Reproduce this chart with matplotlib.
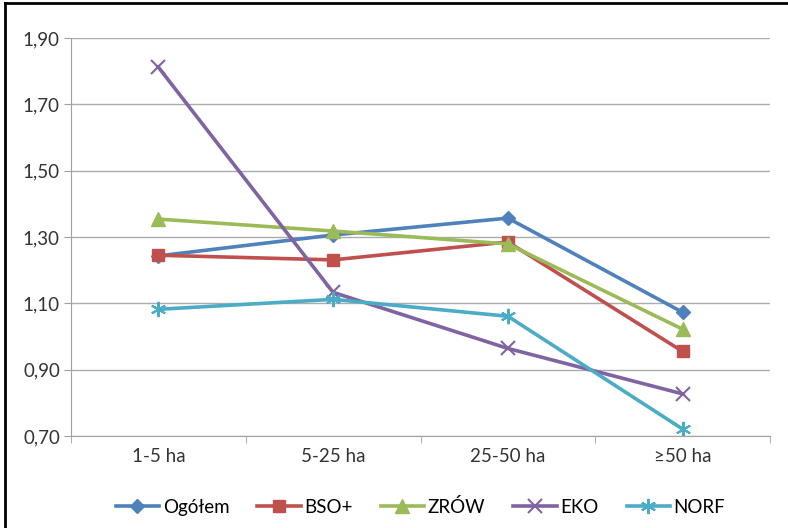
import matplotlib
matplotlib.use('Agg')
import matplotlib.pyplot as plt
from matplotlib.ticker import FuncFormatter, FixedLocator
from matplotlib.lines import Line2D

plt.rcParams['font.family'] = ['Lato', 'DejaVu Sans']

groups = ['1-5 ha', '5-25 ha', '25-50 ha', '≥50 ha']
ogolem = [1.243, 1.306, 1.357, 1.073]
bso = [1.245, 1.231, 1.285, 0.955]
zrow = [1.354, 1.318, 1.279, 1.022]
eko = [1.812, 1.133, 0.964, 0.827]
norf = [1.082, 1.112, 1.061, 0.721]

fig = plt.figure(figsize=(7.88, 5.28), dpi=100)
ax = fig.add_axes([71/788, 1-436/528, 699/788, 398/528])

x = range(len(groups))
ax.plot(x, ogolem, color='#4F81BD', lw=2.6, marker='D', ms=7, label='Ogółem')
ax.plot(x, bso, color='#C0504D', lw=2.6, marker='s', ms=9, label='BSO+')
ax.plot(x, zrow, color='#9BBB59', lw=2.6, marker='^', ms=10, label='ZRÓW')
ax.plot(x, eko, color='#8064A2', lw=2.6, marker='x', ms=10, mew=1.5, label='EKO')
ax.plot(x, norf, color='#4BACC6', lw=2.6, marker=(6, 2, 0), ms=11, mew=1.5, label='NORF')

ax.set_xlim(-0.5, 3.5)
ax.set_ylim(0.70, 1.90)
ax.set_yticks([0.70, 0.90, 1.10, 1.30, 1.50, 1.70, 1.90])
ax.yaxis.set_major_formatter(FuncFormatter(lambda v, p: f'{v:.2f}'.replace('.', ',')))
ax.set_xticks(list(x))
ax.set_xticklabels(groups)
ax.xaxis.set_minor_locator(FixedLocator([-0.5, 0.5, 1.5, 2.5, 3.5]))
ax.tick_params(axis='x', which='major', length=0, pad=9, labelsize=13.5, colors='#333333')
ax.tick_params(axis='x', which='minor', length=5, color='#a0a0a0', direction='out')
ax.tick_params(axis='y', length=5, color='#a0a0a0', labelsize=13.5, colors='#333333', pad=3)
ax.grid(axis='y', color='#acacac', lw=1)
ax.set_axisbelow(True)
for s in ['top', 'right']:
    ax.spines[s].set_visible(False)
for s in ['left', 'bottom']:
    ax.spines[s].set_color('#a0a0a0')

ax.legend(loc='center', bbox_to_anchor=(0.5, -0.178), ncol=5, frameon=False,
          fontsize=13.5, handlelength=2.3, columnspacing=1.5, handletextpad=0.2)

# outer frame: left and top edges only
fig.add_artist(Line2D([5/788, 5/788], [0, 1-3/528], color='black', lw=2, transform=fig.transFigure))
fig.add_artist(Line2D([5/788, 1], [1-3/528, 1-3/528], color='black', lw=2, transform=fig.transFigure))

fig.savefig('out.png', dpi=100)
